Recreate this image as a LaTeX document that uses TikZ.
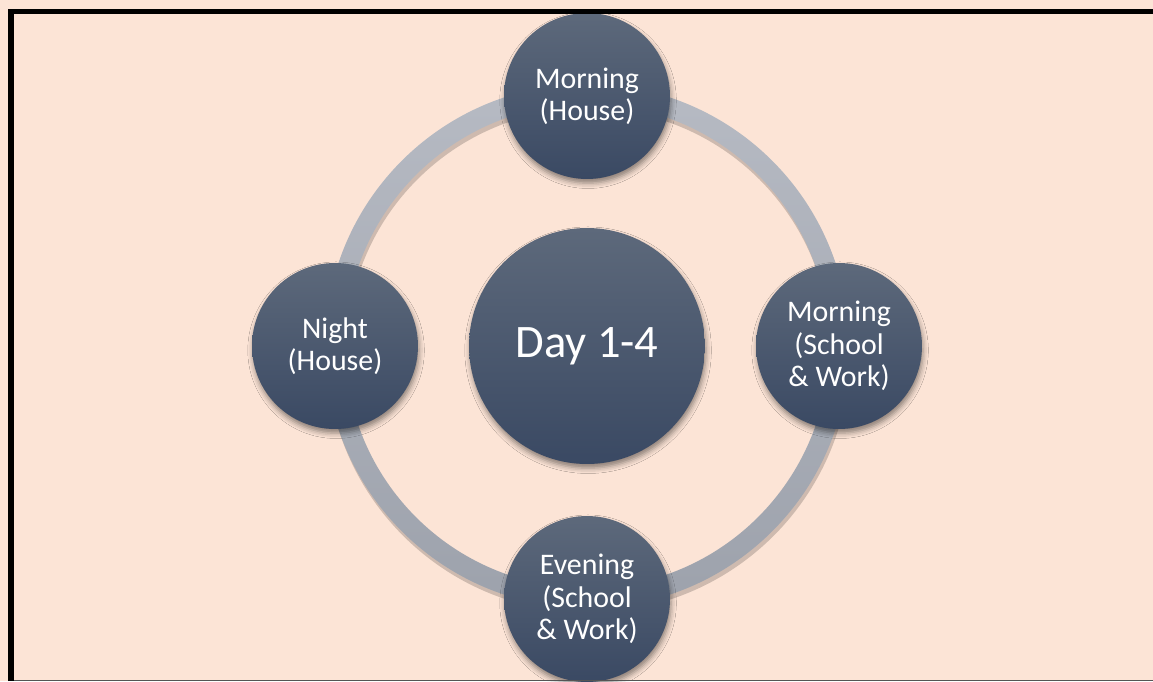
\documentclass[tikz,border=0pt]{standalone}
\usepackage{fontspec}
\setmainfont{Carlito}
\usepackage{tikz}
\usetikzlibrary{shadows.blur}
\definecolor{paper}{HTML}{FCE4D6}
\definecolor{ringtop}{HTML}{B6BAC3}
\definecolor{ringbot}{HTML}{9DA2AC}
\definecolor{disctop}{HTML}{5D697B}
\definecolor{discbot}{HTML}{3A4963}
\definecolor{edge}{HTML}{555555}
\tikzset{
  frame/.style={draw=black, line width=3.4pt, line join=miter},
  baseline/.style={draw=edge, line width=0.9pt},
  disc/.style={circle, inner sep=0pt, top color=disctop, bottom color=discbot,
    text=white, align=center,
    blur shadow={shadow xshift=0.6pt, shadow yshift=-2.4pt, shadow blur radius=3pt, shadow opacity=45}},
  stage/.style={disc, minimum size=3.32cm, font=\fontsize{17}{18.4}\selectfont},
  hub/.style={disc, minimum size=4.72cm, font=\fontsize{26.5}{30}\selectfont},
}

\begin{document}
\begin{tikzpicture}[x=0.02cm, y=-0.02cm]
  \fill[paper] (0,0) rectangle (1153,681);
  \useasboundingbox (0,0) rectangle (1153,681);

  \coordinate (ctr) at (587,346);

  % ring with its shadow
  \fill[black, opacity=0.18, even odd rule] ([shift={(0.8pt,-2.6pt)}]ctr) circle (5.24cm)
    ([shift={(0.8pt,-2.6pt)}]ctr) circle (4.84cm);
  \shade[top color=ringtop, bottom color=ringbot, even odd rule] (ctr) circle (5.24cm) (ctr) circle (4.84cm);

  % discs
  \node[hub] (day) at (ctr) {Day 1-4};
  \node[stage] (mornH) at (587,96) {Morning\\(House)};
  \node[stage] (mornS) at (839,346) {Morning\\(School\\\& Work)};
  \node[stage] (eveS) at (587,599) {Evening\\(School\\\& Work)};
  \node[stage] (nightH) at (335,346) {Night\\(House)};

  % frame
  \draw[frame] (11,681) -- (11,11.5) -- (1153,11.5);
  \draw[baseline] (14,680.3) -- (1153,680.3);
\end{tikzpicture}
\end{document}
